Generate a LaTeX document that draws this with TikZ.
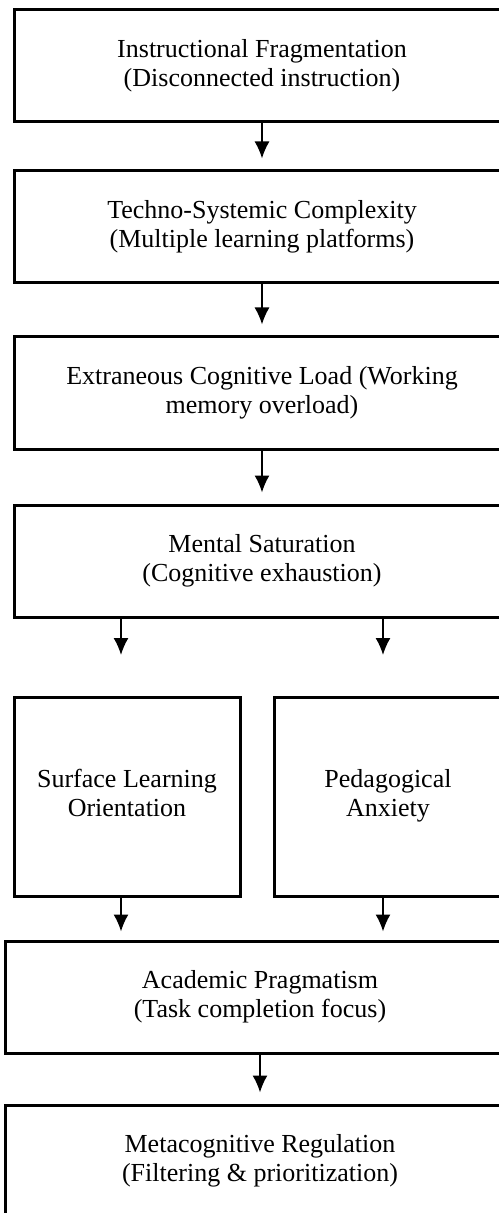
\documentclass[tikz,border=0pt]{standalone}
\usepackage{fontspec}
\setmainfont{Liberation Serif}
\usetikzlibrary{arrows.meta}

\begin{document}
\begin{tikzpicture}[x=0.5pt,y=-0.5pt,>={Latex[length=8.5pt,width=7.5pt]},
  font=\fontsize{13}{14.5}\selectfont,
  flowbox/.style={draw,line width=1.5pt,align=center,minimum width=248pt,minimum height=56pt,inner sep=0pt},
  flow/.style={->,line width=0.8pt,shorten >=5.5pt}]
\useasboundingbox (0,0) rectangle (498,1213);
\node[flowbox] (fr) at (262,66) {Instructional Fragmentation\\(Disconnected instruction)};
\node[flowbox] (tc) at (262,227) {Techno-Systemic Complexity\\(Multiple learning platforms)};
\node[flowbox] (cl) at (262,393) {Extraneous Cognitive Load (Working\\memory overload)};
\node[flowbox] (ms) at (262,561) {Mental Saturation\\(Cognitive exhaustion)};
\node[flowbox,minimum width=113pt,minimum height=99.5pt] (sl) at (127,796.5) {Surface Learning\strut\\Orientation\strut};
\node[flowbox,minimum width=114pt,minimum height=99.5pt] (pa) at (388,796.5) {Pedagogical\strut\\Anxiety\strut};
\node[flowbox,minimum width=255pt] (ap) at (260,997) {Academic Pragmatism\\(Task completion focus)};
\node[flowbox,minimum width=255pt] (mr) at (260,1161) {Metacognitive Regulation\\(Filtering \& prioritization)};
\foreach \a/\b in {fr/tc,tc/cl,cl/ms,ap/mr} \draw[flow] (\a) -- (\b);
\coordinate (l) at (121,655);
\coordinate (r) at (383,655);
\foreach \c/\n in {l/sl,r/pa} {
  \draw[flow,shorten >=0pt] (ms.south -| \c) -- (\c);
  \draw[flow,shorten >=4pt] (\n.south -| \c) -- (ap.north -| \c);
}
\end{tikzpicture}
\end{document}
